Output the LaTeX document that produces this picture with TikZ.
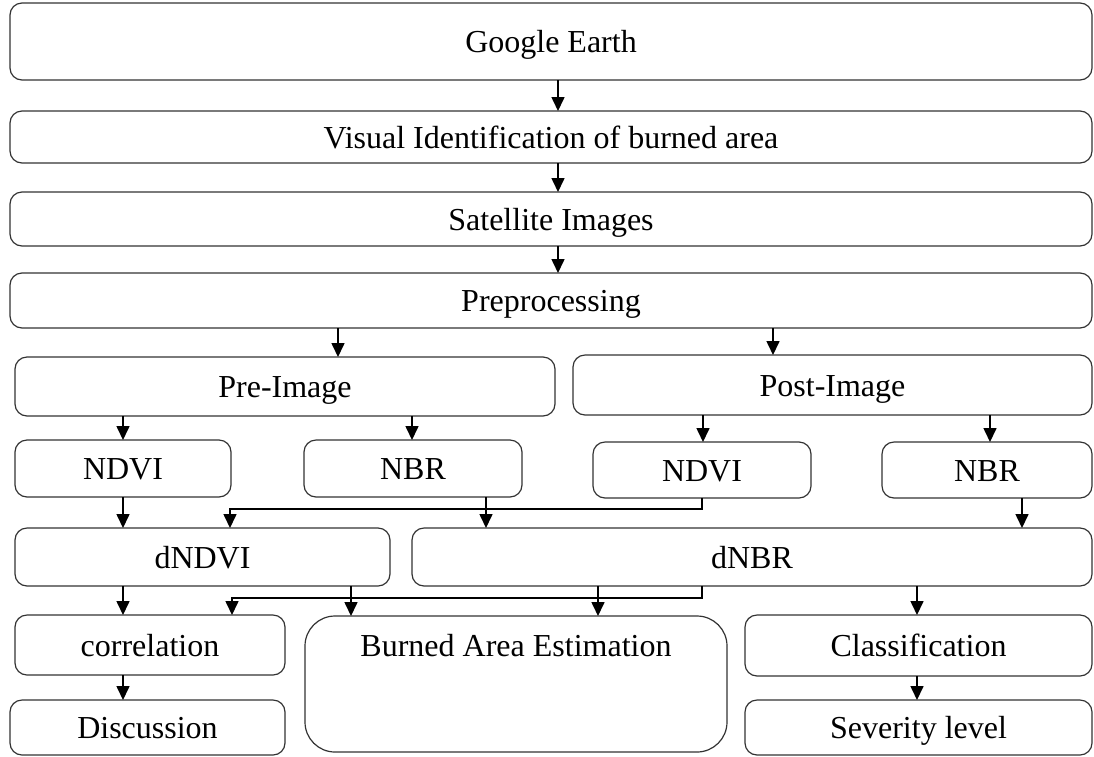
\documentclass[tikz,border=0pt]{standalone}
\usepackage{fontspec}
\setmainfont{Liberation Serif}
\usepackage{tikz}
\usetikzlibrary{positioning,shapes,arrows.meta}

\begin{document}
\begin{tikzpicture}[
x=1pt, y=-1pt,
box/.style={rectangle, rounded corners=12pt, draw=black!80, line width=1.2pt, inner sep=0pt, outer sep=0pt, text height=28pt, text depth=6pt, font=\fontsize{32}{36}\selectfont},
txt/.style={inner sep=0pt, text height=28pt, text depth=6pt, font=\fontsize{32}{36}\selectfont},
arr/.style={line width=1.6pt, -{Triangle[length=14pt, width=13pt]}},
]
\useasboundingbox (0,0) rectangle (1094,756);

\node[box, minimum width=1082pt, minimum height=77pt] (ge) at (551, 41.5) {Google Earth};
\node[box, minimum width=1082pt, minimum height=52pt] (vis) at (551, 137) {Visual Identification of burned area};
\node[box, minimum width=1082pt, minimum height=54pt] (sat) at (551, 219) {Satellite Images};
\node[box, minimum width=1082pt, minimum height=55pt] (prep) at (551, 300.5) {Preprocessing};

\node[box, minimum width=540pt, minimum height=59pt] (preimg) at (285, 386.5) {Pre-Image};
\node[box, minimum width=519pt, minimum height=60pt] (postimg) at (832.5, 385) {Post-Image};

\node[box, minimum width=216pt, minimum height=57pt] (ndvia) at (123, 468.5) {NDVI};
\node[box, minimum width=218pt, minimum height=57pt] (nbra) at (413, 468.5) {NBR};
\node[box, minimum width=218pt, minimum height=56pt] (ndvib) at (702, 470) {NDVI};
\node[box, minimum width=210pt, minimum height=56pt] (nbrb) at (987, 470) {NBR};

\node[box, minimum width=375pt, minimum height=58pt] (dndvi) at (202.5, 557) {dNDVI};
\node[box, minimum width=680pt, minimum height=58pt] (dnbr) at (752, 557) {dNBR};

\node[box, minimum width=270pt, minimum height=60pt] (corr) at (150, 645) {correlation};
\node[box, minimum width=275pt, minimum height=55pt] (disc) at (147.5, 727.5) {Discussion};
\node[box, rounded corners=30pt, minimum width=422pt, minimum height=136pt] (bae) at (516, 684) {};
\node[txt] (baetxt) at (516, 645) {Burned Area Estimation};
\node[box, minimum width=347pt, minimum height=61pt] (cls) at (918.5, 645.5) {Classification};
\node[box, minimum width=347pt, minimum height=55pt] (sev) at (918.5, 727.5) {Severity level};

\draw[arr] ([xshift=7pt]ge.south) -- ([xshift=7pt]vis.north);
\draw[arr] ([xshift=7pt]vis.south) -- ([xshift=7pt]sat.north);
\draw[arr] ([xshift=7pt]sat.south) -- ([xshift=7pt]prep.north);

\draw[arr] ([xshift=-213pt]prep.south) -- ([xshift=53pt]preimg.north);
\draw[arr] ([xshift=222pt]prep.south) -- ([xshift=-59.5pt]postimg.north);

\draw[arr] ([xshift=-162pt]preimg.south) -- (ndvia.north);
\draw[arr] ([xshift=127pt]preimg.south) -- ([xshift=-1pt]nbra.north);
\draw[arr] ([xshift=-129.5pt]postimg.south) -- ([xshift=1pt]ndvib.north);
\draw[arr] ([xshift=157.5pt]postimg.south) -- ([xshift=3pt]nbrb.north);

\draw[arr] (ndvia.south) -- ([xshift=-79.5pt]dndvi.north);
\draw[arr] (ndvib.south) -- ++(0,11) -| ([xshift=27.5pt]dndvi.north);
\draw[arr] ([xshift=73pt]nbra.south) -- ([xshift=-266pt]dnbr.north);
\draw[arr] ([xshift=35pt]nbrb.south) -- ([xshift=270pt]dnbr.north);

\draw[arr] ([xshift=-79.5pt]dndvi.south) -- ([xshift=-27pt]corr.north);
\draw[arr] ([xshift=148.5pt]dndvi.south) -- ([xshift=-165pt]bae.north);
\draw[arr] ([xshift=-50pt]dnbr.south) -- ++(0,12) -| ([xshift=82pt]corr.north);
\draw[arr] ([xshift=-154pt]dnbr.south) -- ([xshift=82pt]bae.north);
\draw[arr] ([xshift=165pt]dnbr.south) -- ([xshift=-1.5pt]cls.north);

\draw[arr] ([xshift=-27pt]corr.south) -- ([xshift=-24.5pt]disc.north);
\draw[arr] ([xshift=-1.5pt]cls.south) -- ([xshift=-1.5pt]sev.north);
\end{tikzpicture}
\end{document}
